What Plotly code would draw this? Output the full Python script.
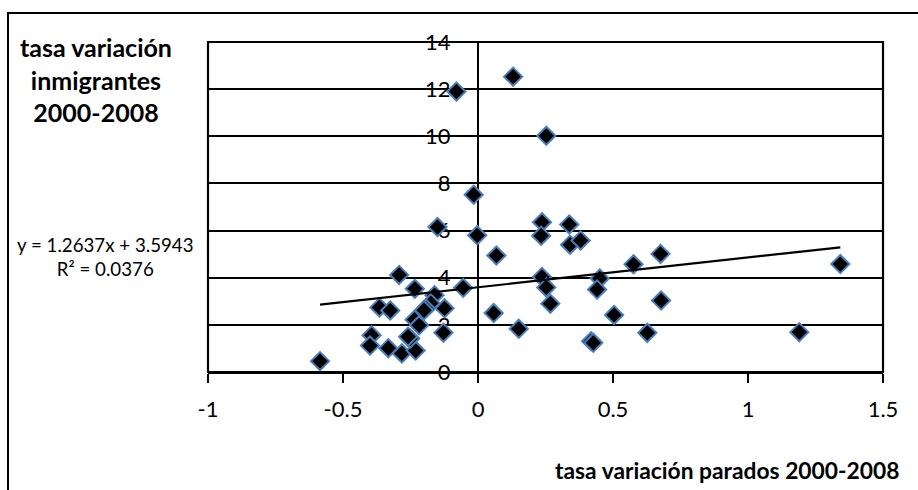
import plotly.graph_objects as go

# data
parados = [-0.080, 0.130, 0.253, -0.016, -0.150, -0.003, 0.068, 0.237, 0.234, 0.338,
           0.341, 0.380, 0.576, 0.676, 1.342, 0.237, 0.253, 0.268, 0.451, 0.441,
           0.678, 0.504, 0.627, 0.419, 0.427, 0.151, 0.058, 1.190, -0.055, -0.124,
           -0.128, -0.292, -0.234, -0.161, -0.175, -0.193, -0.200, -0.365, -0.325, -0.235,
           -0.218, -0.394, -0.400, -0.332, -0.282, -0.231, -0.251, -0.259, -0.585]
inmigrantes = [11.90, 12.53, 10.02, 7.52, 6.15, 5.80, 4.94, 6.35, 5.78, 6.26,
               5.40, 5.58, 4.57, 5.01, 4.58, 4.03, 3.59, 2.90, 3.97, 3.50,
               3.03, 2.42, 1.66, 1.30, 1.24, 1.83, 2.50, 1.69, 3.57, 2.70,
               1.67, 4.12, 3.53, 3.26, 2.92, 2.69, 2.62, 2.74, 2.61, 2.22,
               1.98, 1.56, 1.12, 1.01, 0.79, 0.91, 1.42, 1.50, 0.46]
slope = 1.2637
intercept = 3.5943
r2 = 0.0376
x_ticks = [-1, -0.5, 0, 0.5, 1, 1.5]
y_ticks = [0, 2, 4, 6, 8, 10, 12, 14]

FONT = "Lato"
W, H = 918, 490
L, R, T, B = 208, 35, 42, 117.5
pw, ph = W - L - R, H - T - B

def px(xp):
    return (xp - L) / pw

def py(yp):
    return (H - B - yp) / ph

xmin, xmax = min(parados), max(parados)

fig = go.Figure()
fig.add_trace(go.Scatter(
    x=parados, y=inmigrantes, mode="markers",
    marker=dict(symbol="diamond", size=14, color="black",
                line=dict(color="#4A7EBB", width=2)),
    showlegend=False, hoverinfo="x+y"))
fig.add_trace(go.Scatter(
    x=[xmin, xmax], y=[slope * xmin + intercept, slope * xmax + intercept],
    mode="lines", line=dict(color="black", width=2.2),
    showlegend=False, hoverinfo="skip"))

fig.update_layout(
    width=W, height=H,
    margin=dict(l=L, r=R, t=T, b=B),
    paper_bgcolor="white", plot_bgcolor="white",
    font=dict(family=FONT, color="black", size=22),
    xaxis=dict(range=[-1, 1.5], tickvals=x_ticks, ticktext=[str(v) for v in x_ticks],
               showgrid=False, zeroline=False, showline=True, linecolor="black", linewidth=2,
               ticks="outside", ticklen=9, tickwidth=2, tickcolor="black",
               ticklabelstandoff=8, tickfont=dict(size=22, family=FONT)),
    yaxis=dict(range=[0, 14], tickvals=y_ticks, ticktext=[str(v) for v in y_ticks],
               anchor="free", position=0.4, layer="below traces",
               showgrid=True, gridcolor="black", gridwidth=2.2, zeroline=False,
               showline=True, linecolor="black", linewidth=2,
               ticks="outside", ticklen=9, tickwidth=2, tickcolor="black",
               ticklabelstandoff=13, tickfont=dict(size=22, family=FONT)),
    shapes=[
        dict(type="rect", xref="x domain", yref="y domain", x0=0, x1=1, y0=0, y1=1,
             line=dict(color="black", width=2.2), layer="below"),
        dict(type="rect", xref="paper", yref="paper", x0=px(8), x1=px(930),
             y0=py(500), y1=py(13), line=dict(color="black", width=2), layer="below"),
    ],
    annotations=[
        dict(xref="paper", yref="paper", x=px(96), y=py(80), xanchor="center", yanchor="middle",
             text="<b>tasa variación<br>inmigrantes<br>2000-2008</b>", showarrow=False,
             font=dict(size=25, family=FONT), align="center"),
        dict(xref="paper", yref="paper", x=px(105), y=py(257), xanchor="center", yanchor="middle",
             text=f"y = {slope}x + {intercept}<br>R² = {r2}", showarrow=False,
             font=dict(size=18.7, family=FONT), align="center"),
        dict(xref="paper", yref="paper", x=px(553), y=py(471), xanchor="left", yanchor="middle",
             text="<b>tasa variación parados 2000-2008</b>", showarrow=False,
             font=dict(size=22.8, family=FONT)),
    ],
)

fig.write_html("out.html")
